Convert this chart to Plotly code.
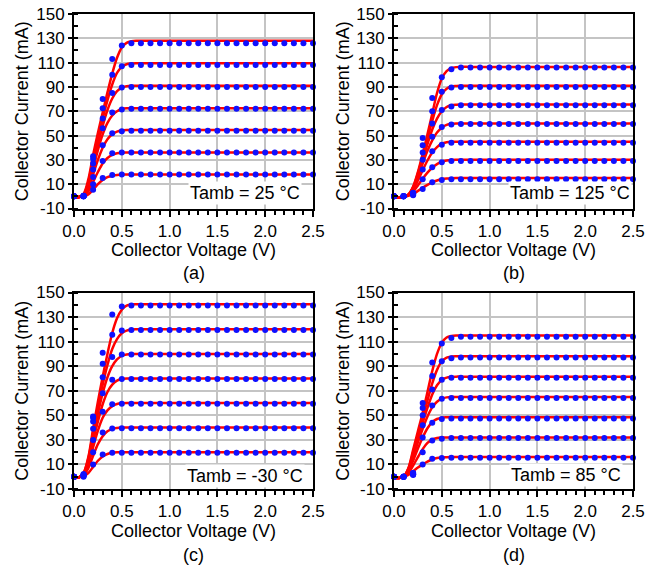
import plotly.graph_objects as go

# ---------------- data ----------------
# measured points: x = 0.0 ... 2.5 step 0.1
x_pts = [0.0, 0.1, 0.2, 0.3, 0.4, 0.5, 0.6, 0.7, 0.8, 0.9, 1.0, 1.1, 1.2, 1.3, 1.4,
         1.5, 1.6, 1.7, 1.8, 1.9, 2.0, 2.1, 2.2, 2.3, 2.4, 2.5]
N_FLAT = len(x_pts) - 7  # points from 0.7 V onwards sit on the plateau

# rising part (0.0 .. 0.6 V) and plateau value for each measured curve
dots_a_rise = [[0, 0, 5.5, 15, 17.5, 18, 18], [0, 0, 10, 29, 35.5, 36, 36],
               [0, 0, 16, 42, 52, 53.5, 54], [0, 0, 22, 56, 69, 71.5, 72],
               [0, 0, 27, 64, 85, 89.5, 90], [0, 0.5, 31, 72.5, 100, 107, 108],
               [0, 0.5, 33, 80, 113, 124, 126]]
dots_a_flat = [18, 36, 54, 72, 90, 108, 126]

dots_b_rise = [[0, 0, 1, 6, 11.5, 13.5, 14], [0, 0, 1.5, 14, 24, 28, 29],
               [0, 0, 2, 22, 37, 42.5, 44], [0, 0, 2, 30, 49, 57, 59],
               [0, 0, 2.5, 36, 60, 71, 74], [0, 0, 2.5, 42, 70, 86, 89.5],
               [0, 0, 3, 48, 81, 98, 104.5]]
dots_b_flat = [14, 29, 44, 59.5, 75, 90, 106]

dots_c_rise = [[0, 0, 10, 18, 19.5, 19.5, 19.5], [0, 0.5, 20, 36, 39.3, 39.5, 39.5],
               [0, 1, 30, 53, 59, 59.5, 59.5], [0, 1, 39, 68, 79, 79.5, 79.5],
               [0, 1.5, 45, 81, 97.5, 99.5, 99.5], [0, 2, 48, 92, 115.5, 119, 119.5],
               [0, 2, 49, 101, 132, 138.5, 139.5]]
dots_c_flat = [19.5, 39.5, 59.5, 79.5, 99.5, 119.5, 139.5]

dots_d_rise = [[0, 0, 1.5, 10, 14.6, 15.3, 15.5], [0, 0, 2, 20, 29.5, 31, 31.5],
               [0, 0, 2, 32, 44, 47, 47.5], [0, 0, 2.5, 42, 58, 63.5, 64],
               [0, 0, 2.5, 50, 71, 79, 80.5], [0, 0, 3, 56, 82, 94, 96.5],
               [0, 0, 3, 60, 93, 108.5, 113]]
dots_d_flat = [15.5, 31.5, 47.5, 64, 80.5, 97, 114]

# model curves
x_line = [0, 0.05, 0.1, 0.15, 0.2, 0.25, 0.3, 0.35, 0.4, 0.45, 0.5, 0.55, 0.6, 0.65, 0.7, 0.8, 2.5]

lines_a = [
    [-1, -0.8, 0, 1.5, 5.5, 10, 13.5, 15.8, 17, 17.6, 17.9, 18, 18, 18, 18, 18, 18],
    [-1, -0.7, 0.5, 4, 12, 20, 27, 31.5, 34.2, 35.4, 35.9, 36, 36, 36, 36, 36, 36],
    [-1, -0.6, 0.8, 6, 18, 30, 40, 47, 51, 53.3, 54.2, 54.5, 54.5, 54.5, 54.5, 54.5, 54.5],
    [-1, -0.6, 1, 8, 23, 38, 51, 60.5, 66.5, 70, 71.8, 72.4, 72.5, 72.5, 72.5, 72.5, 72.5],
    [-1, -0.5, 1.2, 10, 27, 43, 58, 71, 80.5, 86.5, 89.5, 90.6, 91, 91, 91, 91, 91],
    [-1, -0.5, 1.5, 12, 31, 48, 64, 79, 92, 101.5, 106.5, 108.7, 109.3, 109.5, 109.5, 109.5, 109.5],
    [-1, -0.5, 2, 14, 34, 52, 69, 85.5, 101, 114, 122.5, 126.3, 127.6, 128, 128, 128, 128],
]
lines_b = [
    [-1, -1, -0.5, 0.4, 2, 4.5, 7, 9.5, 11.5, 13, 14, 14.6, 14.9, 15, 15, 15, 15],
    [-1, -1, -0.4, 0.8, 4, 9, 14.5, 19.5, 23.5, 26.5, 28.5, 29.5, 29.9, 30, 30, 30, 30],
    [-1, -1, -0.3, 1, 5.5, 13, 21.5, 29.5, 36, 40.5, 43.3, 44.5, 44.9, 45, 45, 45, 45],
    [-1, -1, -0.3, 1.2, 6.5, 16, 27, 37.5, 46, 52.5, 56.5, 58.8, 59.7, 60, 60, 60, 60],
    [-1, -1, -0.2, 1.3, 7, 17.5, 30, 43, 55, 64, 70, 73.5, 75, 75.4, 75.5, 75.5, 75.5],
    [-1, -1, -0.2, 1.4, 7.5, 19, 33, 48, 62, 75, 84, 88.5, 90.3, 90.8, 91, 91, 91],
    [-1, -1, -0.1, 1.5, 8, 20, 35, 51, 68, 85, 97, 103, 105.5, 106.3, 106.5, 106.5, 106.5],
]
lines_c = [
    [-1, -0.5, 0.5, 3, 8, 13, 16.5, 18.5, 19.5, 19.9, 20, 20, 20, 20, 20, 20, 20],
    [-1, -0.5, 1.2, 7, 17, 26.5, 33, 37, 39, 39.7, 40, 40, 40, 40, 40, 40, 40],
    [-1, -0.5, 1.8, 10, 24, 37.5, 48, 54, 57.5, 59.2, 59.8, 60, 60, 60, 60, 60, 60],
    [-1, -0.5, 2.2, 12, 29, 45, 59, 69, 75, 78.3, 79.5, 79.9, 80, 80, 80, 80, 80],
    [-1, -0.5, 2.5, 13.5, 33, 51.5, 68, 81, 90, 95.5, 98.5, 99.6, 100, 100, 100, 100, 100],
    [-1, -0.5, 2.8, 15, 36, 56.5, 75, 91, 104, 112, 116.8, 119, 119.8, 120, 120, 120, 120],
    [-1, -0.5, 3, 16, 39, 61, 81.5, 100, 117, 129, 136, 139.3, 140.3, 140.5, 140.5, 140.5, 140.5],
]
lines_d = [
    [-1, -1, -0.3, 1.5, 4.5, 7.5, 10, 12.3, 14, 15.2, 15.7, 15.9, 16, 16, 16, 16, 16],
    [-1, -1, -0.2, 3, 9, 16, 22.5, 27.5, 30.3, 31.5, 31.9, 32, 32, 32, 32, 32, 32],
    [-1, -1, -0.1, 4.5, 13, 23, 32, 39.5, 44.5, 47, 48.1, 48.4, 48.5, 48.5, 48.5, 48.5, 48.5],
    [-1, -1, 0, 5.5, 16, 28, 39, 49, 56.5, 61, 63.5, 64.6, 65, 65, 65, 65, 65],
    [-1, -1, 0, 6, 18, 31, 44, 56, 67, 74.5, 78.8, 80.7, 81.3, 81.5, 81.5, 81.5, 81.5],
    [-1, -1, 0, 6.5, 20, 34, 48, 62, 76, 87, 94, 97, 97.8, 98, 98, 98, 98],
    [-1, -1, 0, 7, 22, 37, 52, 69, 86, 100, 109, 113.3, 114.6, 115, 115, 115, 115],
]

temps = ["Tamb = 25 °C", "Tamb = 125 °C", "Tamb = -30 °C", "Tamb = 85 °C"]
panel_labels = ["(a)", "(b)", "(c)", "(d)"]
y_ticks = [-10, 10, 30, 50, 70, 90, 110, 130, 150]
x_ticks = [0.0, 0.5, 1.0, 1.5, 2.0, 2.5]

# ---------------- figure ----------------
W, H = 659, 567
FONT = "Liberation Sans, Arial, sans-serif"
fig = go.Figure()

panels = [
    (lines_a, dots_a_rise, dots_a_flat),
    (lines_b, dots_b_rise, dots_b_flat),
    (lines_c, dots_c_rise, dots_c_flat),
    (lines_d, dots_d_rise, dots_d_flat),
]

xdom = [[74 / W, 313 / W], [394 / W, 633 / W]]
ydom = [[1 - 208.5 / H, 1 - 14 / H], [1 - 489 / H, 1 - 292.5 / H]]

for i, (lines, rise, flat) in enumerate(panels):
    xa = "x" if i == 0 else f"x{i+1}"
    ya = "y" if i == 0 else f"y{i+1}"
    for ln in lines:
        fig.add_trace(go.Scatter(x=x_line, y=ln, mode="lines", xaxis=xa, yaxis=ya,
                                 line=dict(color="#ff0000", width=2.5, shape="spline", smoothing=0.9),
                                 showlegend=False, hoverinfo="skip", cliponaxis=False))
    for r, f in zip(rise, flat):
        yv = r + [f] * N_FLAT
        fig.add_trace(go.Scatter(x=x_pts, y=yv, mode="markers", xaxis=xa, yaxis=ya,
                                 marker=dict(color="#1010ff", size=6),
                                 showlegend=False, hoverinfo="skip", cliponaxis=False))

axis_common = dict(showline=True, linecolor="black", linewidth=2, mirror=True,
                   showgrid=True, gridcolor="#c4c4c4", gridwidth=2, zeroline=False,
                   automargin=False,
                   ticks="outside", tickwidth=2, tickcolor="black",
                   tickfont=dict(family=FONT, size=17, color="black"))

layout = dict(width=W, height=H, margin=dict(l=0, r=0, t=0, b=0, autoexpand=False),
              paper_bgcolor="white", plot_bgcolor="white", showlegend=False,
              font=dict(family=FONT, color="black"))
annotations = []
for i in range(4):
    col, row = i % 2, i // 2
    xk = "xaxis" if i == 0 else f"xaxis{i+1}"
    yk = "yaxis" if i == 0 else f"yaxis{i+1}"
    ya = "y" if i == 0 else f"y{i+1}"
    xa = "x" if i == 0 else f"x{i+1}"
    layout[xk] = dict(axis_common, domain=xdom[col], anchor=ya, range=[0, 2.5],
                      tickvals=x_ticks, ticktext=[f"{v:.1f}" for v in x_ticks], ticklen=6,
                      minor=dict(dtick=0.1, tick0=0, ticks="outside", ticklen=4,
                                 tickwidth=1.5, tickcolor="black", showgrid=False))
    layout[yk] = dict(axis_common, domain=ydom[row], anchor=xa, range=[-10, 150],
                      tickvals=y_ticks, ticktext=[str(v) for v in y_ticks], ticklen=4,
                      minor=dict(dtick=10, tick0=0, ticks="inside", ticklen=4,
                                 tickwidth=1.5, tickcolor="black", showgrid=False))
    x0, x1 = xdom[col]
    y0, y1 = ydom[row]
    ytitle_x = [22 / W, 343 / W][col]
    annotations.append(dict(text="Collector Current (mA)", xref="paper", yref="paper",
                            x=ytitle_x, y=(y0 + y1) / 2, textangle=-90, showarrow=False,
                            xanchor="center", yanchor="middle",
                            font=dict(family=FONT, size=18, color="black")))
    xt_y = [1 - 250 / H, 1 - 531 / H][row]
    lab_y = [1 - 273 / H, 1 - 555 / H][row]
    annotations.append(dict(text="Collector Voltage (V)", xref="paper", yref="paper",
                            x=(x0 + x1) / 2, y=xt_y, showarrow=False,
                            xanchor="center", yanchor="middle",
                            font=dict(family=FONT, size=18, color="black")))
    annotations.append(dict(text=panel_labels[i], xref="paper", yref="paper",
                            x=(x0 + x1) / 2, y=lab_y, showarrow=False,
                            xanchor="center", yanchor="middle",
                            font=dict(family=FONT, size=18, color="black")))
    t_right = [302, 632, 305, 623][i]
    t_y = [193, 193, 476, 475][i]
    annotations.append(dict(text=temps[i], xref="paper", yref="paper",
                            x=t_right / W, y=1 - t_y / H, showarrow=False,
                            xanchor="right", yanchor="middle", bgcolor="white",
                            borderpad=1,
                            font=dict(family=FONT, size=18, color="black")))
layout["annotations"] = annotations
fig.update_layout(**layout)

fig.write_html("out.html")
